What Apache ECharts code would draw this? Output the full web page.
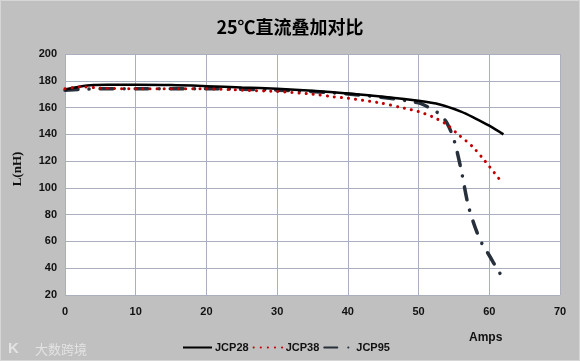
<!DOCTYPE html>
<html>
<head>
<meta charset="utf-8">
<script src="https://cdn.jsdelivr.net/npm/echarts@6/dist/echarts.min.js"></script>
<style>
html,body{margin:0;padding:0;background:#c0c0c0;}
#c{width:580px;height:361px;box-sizing:border-box;border:1px solid #d6d6d6;}
</style>
</head>
<body>
<div id="c"></div>
<script>
const titleText = '25℃直流叠加对比';
const seriesNames = ['JCP28', 'JCP38', 'JCP95'];
const xTicks = [0, 10, 20, 30, 40, 50, 60, 70];
const yTicks = [20, 40, 60, 80, 100, 120, 140, 160, 180, 200];

const jcp28X = [0, 2, 4, 6, 10, 15, 20, 25, 30, 35, 40, 45, 50, 53, 56, 58, 60, 62];
const jcp28Y = [173.5, 175.5, 176.8, 177, 177, 176.8, 176, 175, 174, 172.5, 170.5, 168, 165, 162.3, 157, 152, 146.5, 140];

const jcp38X = [0, 2.5, 5, 10, 20, 25, 30, 35, 38, 40, 44.5, 48, 50, 52, 53.8, 55.7, 57.6, 59.4, 61.5];
const jcp38Y = [174, 175.5, 174.5, 174, 174, 173, 172, 170, 168, 167, 163.5, 159.5, 157, 153, 148, 139.5, 131, 120, 106];

const jcp95X = [0, 5, 10, 20, 30, 38, 45, 50, 51.3, 53, 54, 55, 56, 57, 58, 59, 60, 61, 62];
const jcp95Y = [173, 174, 174, 174, 173, 171, 167.5, 163.5, 160.5, 155, 148.5, 136, 114, 87.5, 70.5, 58, 49.5, 40.5, 32];

function pairs(xs, ys) { return xs.map((x, i) => [x, ys[i]]); }

const chart = echarts.init(document.getElementById('c'));
const labelFont = { fontFamily: 'Liberation Sans, Arial, sans-serif', fontWeight: 'bold', fontSize: 11, color: '#111' };

chart.setOption({
  backgroundColor: '#c0c0c0',
  animation: false,
  title: {
    text: titleText,
    left: 'center',
    top: 12,
    textStyle: { fontFamily: 'Noto Sans CJK SC, sans-serif', fontWeight: 'bold', fontSize: 18, color: '#000' }
  },
  grid: { left: 64, right: 19, top: 53, bottom: 65, backgroundColor: '#fff', show: true, borderWidth: 0 },
  xAxis: {
    type: 'value', min: xTicks[0], max: xTicks[xTicks.length - 1], interval: 10,
    axisLine: { show: false }, axisTick: { show: false },
    splitLine: { show: true, lineStyle: { color: '#a9afbf', width: 1 } },
    axisLabel: Object.assign({ margin: 11 }, labelFont)
  },
  yAxis: {
    type: 'value', min: yTicks[0], max: yTicks[yTicks.length - 1], interval: 20,
    axisLine: { show: false }, axisTick: { show: false },
    splitLine: { show: true, lineStyle: { color: '#a9afbf', width: 1 } },
    axisLabel: Object.assign({ margin: 8 }, labelFont)
  },
  legend: {
    left: 176, top: 336,
    itemWidth: 29, itemHeight: 10, itemGap: 4,
    itemStyle: { opacity: 0 },
    textStyle: Object.assign({}, labelFont, { padding: [0, 0, 0, -2] }),
    data: seriesNames
  },
  graphic: [
    { type: 'text', left: 468, top: 331, style: { text: 'Amps', font: 'bold 12px Liberation Sans, Arial, sans-serif', fill: '#111' } },
    { type: 'text', x: 17, y: 168, rotation: Math.PI / 2, style: { text: 'L(nH)', font: 'bold 13px Liberation Serif, Times New Roman, serif', fill: '#111', align: 'center', verticalAlign: 'middle' } },
    { type: 'text', left: 34, top: 342, style: { text: '大数跨境', font: '13px Noto Sans CJK SC, sans-serif', fill: 'rgba(255,255,255,0.55)' } },
    { type: 'text', left: 7, top: 340, style: { text: 'K', font: 'bold 15px Liberation Sans, sans-serif', fill: 'rgba(255,255,255,0.55)' } }
  ],
  series: [
    {
      name: seriesNames[0], type: 'line', data: pairs(jcp28X, jcp28Y), smooth: 0.3, symbol: 'none',
      lineStyle: { color: '#000', width: 2.5 }, itemStyle: { color: '#000' }, z: 3
    },
    {
      name: seriesNames[1], type: 'line', data: pairs(jcp38X, jcp38Y), smooth: 0.3, symbol: 'none',
      lineStyle: { color: '#c00000', width: 3, type: [0.1, 7], cap: 'round' }, itemStyle: { color: '#c00000' }, z: 4
    },
    {
      name: seriesNames[2], type: 'line', data: pairs(jcp95X, jcp95Y), smooth: 0.3, symbol: 'none',
      lineStyle: { color: '#27303b', width: 3.5, type: [13, 11, 0.1, 11], cap: 'round' }, itemStyle: { color: '#27303b' }, z: 2
    }
  ]
});
</script>
</body>
</html>
